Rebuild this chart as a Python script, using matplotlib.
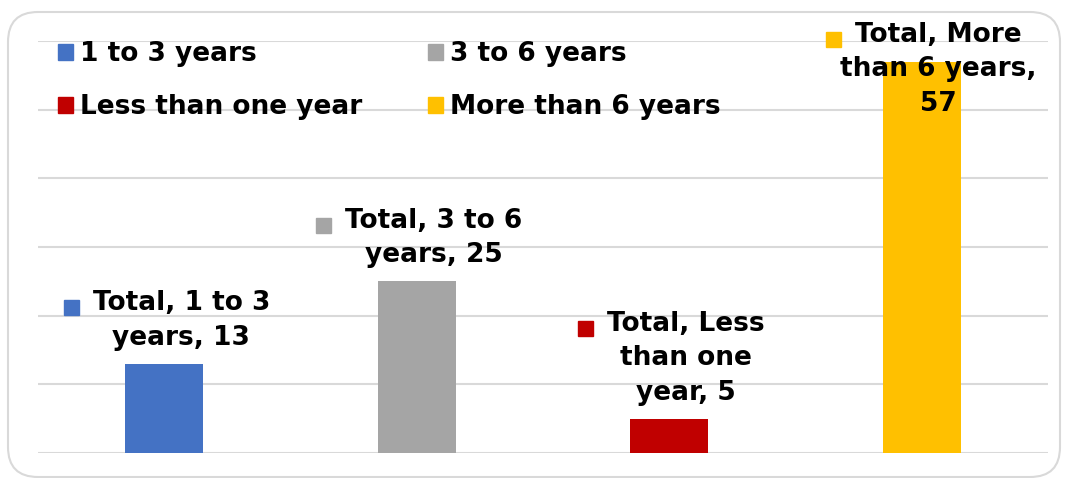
import matplotlib.pyplot as plt
from matplotlib.patches import FancyBboxPatch, Patch

categories = ["1 to 3 years", "3 to 6 years", "Less than one year", "More than 6 years"]
values = [13, 25, 5, 57]
colors = ["#4472C4", "#A5A5A5", "#C00000", "#FFC000"]
label_lines = [
    ["Total, 1 to 3", "years, 13"],
    ["Total, 3 to 6", "years, 25"],
    ["Total, Less", "than one", "year, 5"],
    ["Total, More", "than 6 years,", "57"],
]

W, H = 1065, 478
plt.rcParams['font.family'] = ['DejaVu Sans']
fig = plt.figure(figsize=(W / 100, H / 100), dpi=100)

# rounded chart border (in inches so the corners stay round)
fig.patches.append(FancyBboxPatch((0.08, 0.01), 10.52, 4.65,
                                  boxstyle="round,pad=0,rounding_size=0.3",
                                  transform=fig.dpi_scale_trans, fill=False,
                                  edgecolor="#D9D9D9", linewidth=1.5))

ax = fig.add_axes([38 / W, (H - 453) / H, 1010 / W, 412 / H])
x = list(range(len(categories)))
ax.bar(x, values, width=0.31, color=colors, zorder=2)
ax.set_xlim(-0.5, 3.5)
ax.set_ylim(0, 60)
ax.set_yticks(range(0, 61, 10))
ax.set_xticks([])
ax.tick_params(left=False, labelleft=False)
ax.yaxis.grid(True, color="#D9D9D9", linewidth=1.5)
ax.set_axisbelow(True)
for s in ax.spines.values():
    s.set_visible(False)

# legend: rows are [1-3, 3-6], [Less, More]
order = [0, 2, 1, 3]
handles = [Patch(color=colors[i], label=categories[i]) for i in order]
ax.legend(handles=handles, ncol=2, loc="upper left", bbox_to_anchor=(58 / W, 1 - 41 / H),
          bbox_transform=fig.transFigure, frameon=False,
          prop={"weight": "bold", "size": 19}, handlelength=0.57, handleheight=0.57,
          handletextpad=0.25, columnspacing=2.5, labelspacing=1.04, borderaxespad=0,
          borderpad=0)

fs = 19
top_limit = H - 22  # label block can't go above this (pixels from bottom)
fig.canvas.draw()
renderer = fig.canvas.get_renderer()
for i, (v, lines) in enumerate(zip(values, label_lines)):
    bx, by = ax.transData.transform((x[i], v))
    cx = bx + 17
    t = fig.text(cx / W, (by + 13) / H, "\n".join(lines), ha="center", va="bottom",
                 fontsize=fs, fontweight="bold", linespacing=1.42, color="black", zorder=5)
    bb = t.get_window_extent(renderer)
    if bb.y1 > top_limit:
        t.set_va("top")
        t.set_y(top_limit / H)
        bb = t.get_window_extent(renderer)
    # square legend key left of the first line
    tmp = fig.text(0, 0, lines[0], fontsize=fs, fontweight="bold")
    w1 = tmp.get_window_extent(renderer).width
    tmp.remove()
    fig.patches.append(plt.Rectangle(((cx - w1 / 2 - 29) / W, (bb.y1 - 25) / H),
                                     15 / W, 15 / H, transform=fig.transFigure,
                                     color=colors[i], zorder=5))

fig.savefig("out.png", dpi=100)
